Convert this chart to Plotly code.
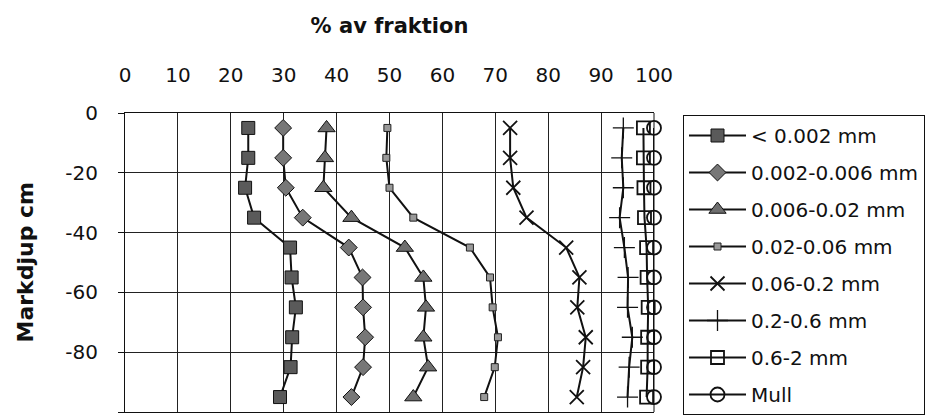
import plotly.graph_objects as go

depth = [-5, -15, -25, -35, -45, -55, -65, -75, -85, -95]

series_names = ["< 0.002 mm", "0.002-0.006 mm", "0.006-0.02 mm", "0.02-0.06 mm",
                "0.06-0.2 mm", "0.2-0.6 mm", "0.6-2 mm", "Mull"]

s_lt0002 = [23.3, 23.3, 22.7, 24.4, 31.2, 31.5, 32.3, 31.6, 31.3, 29.3]
s_0002_0006 = [29.9, 29.9, 30.4, 33.6, 42.3, 44.9, 45.0, 45.4, 45.0, 42.8]
s_0006_002 = [38.1, 37.8, 37.5, 42.8, 52.9, 56.4, 56.9, 56.4, 57.3, 54.5]
s_002_006 = [49.6, 49.4, 50.0, 54.5, 65.2, 69.0, 69.5, 70.5, 69.9, 67.9]
s_006_02 = [72.8, 72.8, 73.4, 75.9, 83.4, 85.9, 85.5, 87.1, 86.6, 85.4]
s_02_06 = [94.2, 93.9, 94.2, 93.5, 94.4, 95.1, 95.0, 95.9, 95.3, 95.0]
s_06_2 = [98.0, 98.0, 98.1, 98.2, 98.6, 98.7, 98.9, 98.8, 98.8, 98.6]
s_mull = [100, 100, 100, 100, 100, 100, 100, 100, 100, 100]

y_tickvals = [0, -20, -40, -60, -80, -100]
y_ticktext = ["0", "-20", "-40", "-60", "-80", "-100"]

values = [s_lt0002, s_0002_0006, s_0006_002, s_002_006, s_006_02, s_02_06, s_06_2, s_mull]

markers = [
    dict(symbol="square", size=13, color="#5a5a5a", line=dict(color="#111", width=1)),
    dict(symbol="diamond", size=13, color="#777777", line=dict(color="#111", width=1)),
    dict(symbol="triangle-up", size=15, color="#6e6e6e", line=dict(color="#111", width=1)),
    dict(symbol="square", size=7, color="#999999", line=dict(color="#222", width=1)),
    dict(symbol="x-thin", size=14, color="#111", line=dict(color="#111", width=1.8)),
    dict(symbol="cross-thin", size=15, color="#111", line=dict(color="#111", width=1.3)),
    dict(symbol="square-open", size=13, color="#111", line=dict(color="#111", width=1.8)),
    dict(symbol="circle-open", size=14, color="#111", line=dict(color="#111", width=1.8)),
]

fig = go.Figure()
for i, (name, vals, mk) in enumerate(zip(series_names, values, markers)):
    fig.add_trace(go.Scatter(
        x=vals, y=depth, name=name, mode="lines+markers",
        line=dict(color="#111", width=2),
        marker=mk, cliponaxis=False, legendgroup=f"g{i}",
    ))

tick_font = "DejaVu Sans, Verdana, sans-serif"

fig.update_layout(
    width=934, height=419,
    margin=dict(l=125, r=280, t=113, b=7),
    paper_bgcolor="white", plot_bgcolor="white",
    font=dict(family=tick_font, size=20, color="#111"),
    title=dict(text="<b>% av fraktion</b>", xref="paper", x=0.5, xanchor="center",
               yref="container", y=1 - 26 / 419, yanchor="middle",
               font=dict(size=21, family=tick_font, color="#111")),
    showlegend=True,
    legend=dict(x=683 / 934, xref="container", xanchor="left",
                y=1 - 115 / 419, yref="container", yanchor="top",
                bordercolor="#111", borderwidth=1, bgcolor="white",
                font=dict(size=20, family=tick_font, color="#111"),
                tracegroupgap=8, itemwidth=57, maxheight=400),
    annotations=[dict(
        text="<b>Markdjup cm</b>", textangle=-90,
        xref="paper", x=(25 - 125) / 529, xanchor="center",
        yref="paper", y=0.5, yanchor="middle", showarrow=False,
        font=dict(size=22, family=tick_font, color="#111"),
    )],
)

fig.update_xaxes(
    side="top", range=[0, 100], dtick=10, tick0=0,
    showgrid=True, gridcolor="#222", gridwidth=1,
    showline=True, linecolor="#111", linewidth=1, mirror=True,
    ticks="", ticklabelstandoff=22, zeroline=False, automargin=False,
    tickfont=dict(size=20),
)
fig.update_yaxes(
    range=[-100, 0], tickmode="array", tickvals=y_tickvals, ticktext=y_ticktext,
    showgrid=True, gridcolor="#222", gridwidth=1,
    showline=True, linecolor="#111", linewidth=1, mirror=False,
    ticks="outside", ticklen=6, tickcolor="#111",
    ticklabelstandoff=16, zeroline=False, automargin=False,
    tickfont=dict(size=20),
)
fig.update_layout(shapes=[dict(type="line", xref="paper", yref="paper",
                               x0=1, x1=1, y0=0, y1=1,
                               line=dict(color="#111", width=1))])

fig.write_html("out.html", config={"displayModeBar": False},
               post_script="document.body.style.margin='0';document.body.style.overflow='hidden';")
